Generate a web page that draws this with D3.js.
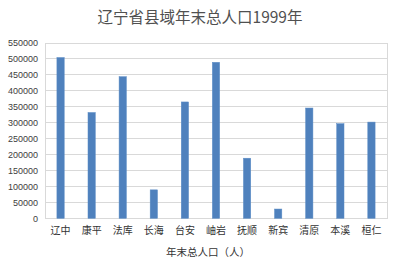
<!DOCTYPE html>
<html>
<head>
<meta charset="utf-8">
<script src="https://cdn.jsdelivr.net/npm/d3@7"></script>
<style>
  body { margin: 0; background: #fff; }
  text { font-family: "Noto Sans CJK SC", "Noto Sans", sans-serif; fill: #595959; }
</style>
</head>
<body>
<div id="chart"></div>
<script>
var counties = ['辽中', '康平', '法库', '长海', '台安', '岫岩', '抚顺', '新宾', '清原', '本溪', '桓仁'];
var population = [503000, 331000, 443000, 89000, 364000, 488000, 188000, 29000, 345000, 296000, 301000];
var yTicks = [0, 50000, 100000, 150000, 200000, 250000, 300000, 350000, 400000, 450000, 500000, 550000];

var w = 400, h = 269;
var plotLeft = 45, plotRight = 387, plotTop = 42.5, plotBottom = 218.3;

var svg = d3.select('#chart')
  .append('svg')
    .attr('width', w)
    .attr('height', h);

var x = d3.scaleBand()
  .domain(counties)
  .range([plotLeft, plotRight])
  .paddingInner(0.765)
  .paddingOuter(0.383);

var y = d3.scaleLinear()
  .domain([0, 550000])
  .range([plotBottom, plotTop]);

// grid
svg.append('g')
  .selectAll('line')
  .data(yTicks)
  .enter()
  .append('line')
    .attr('x1', plotLeft)
    .attr('x2', plotRight)
    .attr('y1', function(d) { return Math.round(y(d)) + 0.5; })
    .attr('y2', function(d) { return Math.round(y(d)) + 0.5; })
    .attr('stroke', '#d9d9d9')
    .attr('stroke-width', 1);

// plot border
svg.append('rect')
  .attr('x', plotLeft + 0.5)
  .attr('y', Math.round(plotTop) + 0.5)
  .attr('width', plotRight - plotLeft)
  .attr('height', Math.round(plotBottom) - Math.round(plotTop))
  .attr('fill', 'none')
  .attr('stroke', '#d9d9d9');

// y axis labels
var yAxis = d3.axisLeft(y).tickValues(yTicks).tickSize(0).tickPadding(7).tickFormat(d3.format('d'));
svg.append('g')
  .attr('transform', 'translate(' + plotLeft + ',0)')
  .call(yAxis)
  .call(function(g) { g.select('.domain').remove(); })
  .selectAll('text')
    .style('font-size', '9px')
    .style('font-family', '"Liberation Sans", sans-serif')
    .style('fill', '#404040');

// bars
svg.selectAll('rect.bar')
  .data(population)
  .enter()
  .append('rect')
    .attr('class', 'bar')
    .attr('x', function(d, i) { return x(counties[i]); })
    .attr('y', function(d) { return y(d); })
    .attr('width', x.bandwidth())
    .attr('height', function(d) { return y(0) - y(d); })
    .attr('fill', '#4f81bd')
    .attr('stroke', '#5b8cc6')
    .attr('stroke-width', 0.5);

// x axis labels
var xAxis = d3.axisBottom(x).tickSize(0).tickPadding(9);
svg.append('g')
  .attr('transform', 'translate(0,' + plotBottom + ')')
  .call(xAxis)
  .call(function(g) { g.select('.domain').remove(); })
  .selectAll('text')
    .style('font-size', '10px')
    .style('fill', '#333333');

// title
svg.append('text')
  .attr('x', 200)
  .attr('y', 23)
  .attr('text-anchor', 'middle')
  .style('font-size', '15.5px')
  .style('fill', '#505050')
  .text('辽宁省县域年末总人口1999年');

// axis title
svg.append('text')
  .attr('x', 208)
  .attr('y', 256)
  .attr('text-anchor', 'middle')
  .style('font-size', '10.5px')
  .style('fill', '#333333')
  .text('年末总人口（人）');
</script>
</body>
</html>
